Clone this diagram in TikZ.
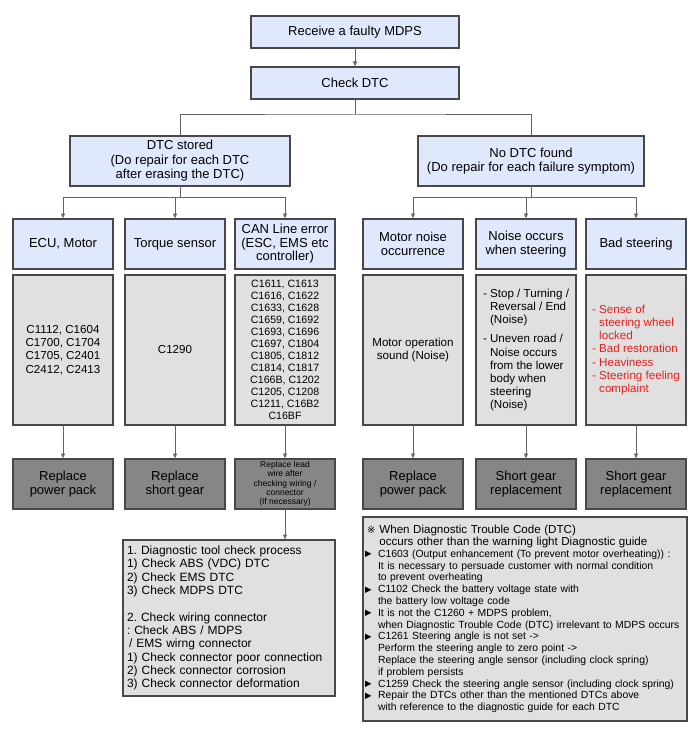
\documentclass[tikz,border=0pt]{standalone}
\usepackage{fontspec}
\setmainfont{Liberation Sans}
\newfontfamily\symfont{DejaVu Sans}
\usepackage{tikz}
\usetikzlibrary{positioning}
\usetikzlibrary{arrows,arrows.meta}

\definecolor{boxblue}{RGB}{224,232,251}
\definecolor{boxgrey}{RGB}{224,224,224}
\definecolor{boxdark}{RGB}{134,134,134}
\definecolor{linegrey}{RGB}{72,72,76}
\definecolor{symred}{RGB}{232,30,26}

\newcommand{\tri}{\raisebox{0.3pt}{\symfont\fontsize{8.5}{8.5}\selectfont ▶}\hspace{6.5pt}}
\newcommand{\refmark}{{\symfont\fontsize{10}{10}\selectfont ※}\hspace{4pt}}
\frenchspacing

\begin{document}
\begin{tikzpicture}[x=1pt, y=-1pt, >={Latex[length=5.5pt,width=4.5pt]}, node distance = 6pt,
  every node/.style = {rectangle, draw=linegrey, line width=1.2pt,
    inner sep=2pt, outer sep=0pt, align=center},
  head/.style = {fill=boxblue, font=\fontsize{13}{14.5}\selectfont},
  cat/.style  = {fill=boxblue, minimum width=100pt, minimum height=50pt,
    font=\fontsize{13}{13.5}\selectfont},
  codes/.style = {fill=boxgrey, minimum width=100pt, minimum height=150pt,
    font=\fontsize{11.6}{13.2}\selectfont},
  repl/.style = {fill=boxdark, minimum width=100pt, minimum height=50pt,
    font=\fontsize{13}{14.3}\selectfont},
  note/.style = {fill=boxgrey, align=left},
  conn/.style = {draw=linegrey!85, line width=1pt}]

  \path[use as bounding box] (0,0) rectangle (699,738);

  % top of the tree
  \node[head, minimum width=208pt, minimum height=32pt] (RM) at (355,32) {Receive a faulty MDPS};
  \node[head, minimum width=208pt, minimum height=32pt, below = 19pt of RM] (CD) {Check DTC};
  \node[head, minimum width=220pt, minimum height=50pt] (DS) at (180,161)
    {DTC stored\\(Do repair for each DTC\\after erasing the DTC)};
  \node[head, minimum width=226pt, minimum height=50pt] (ND) at (531,161)
    {No DTC found\\(Do repair for each failure symptom)};

  % failure groups
  \node[cat] (ECU) at (63,244) {ECU, Motor};
  \node[cat, right = 12pt of ECU] (TQ) {Torque sensor};
  \node[cat, right = 10pt of TQ] (CAN) {CAN Line error\\(ESC, EMS etc\\controller)};
  \node[cat, right = 28pt of CAN] (MN) {Motor noise\\occurrence};
  \node[cat, right = 13pt of MN] (NS) {Noise occurs\\when steering};
  \node[cat, right = 10pt of NS] (BS) {Bad steering};

  % codes and symptoms
  \node[codes, below = of ECU] (cECU) {C1112, C1604\\C1700, C1704\\C1705, C2401\\C2412, C2413};
  \node[codes, below = of TQ] (cTQ) {C1290};
  \node[codes, below = of CAN, font=\fontsize{10.6}{11.94}\selectfont] (cCAN)
    {C1611, C1613\\C1616, C1622\\C1633, C1628\\C1659, C1692\\C1693, C1696\\C1697, C1804\\
     C1805, C1812\\C1814, C1817\\C166B, C1202\\C1205, C1208\\C1211, C16B2\\C16BF};
  \node[codes, below = of MN] (cMN) {Motor operation\\sound (Noise)};
  \node[codes, below = of NS, align=left] (cNS)
    {- Stop / Turning /\\\hphantom{- }Reversal / End\\\hphantom{- }(Noise)\\[6pt]
     - Uneven road /\\\hphantom{- }Noise occurs\\\hphantom{- }from the lower\\
     \hphantom{- }body when\\\hphantom{- }steering\\\hphantom{- }(Noise)};
  \node[codes, below = of BS, align=left, text=symred] (cBS)
    {- Sense of\\\hphantom{- }steering wheel\\\hphantom{- }locked\\- Bad restoration\\
     - Heaviness\\- Steering feeling\\\hphantom{- }complaint};

  % repair actions
  \node[repl, below = 34pt of cECU] (rECU) {Replace\\power pack};
  \node[repl, below = 34pt of cTQ] (rTQ) {Replace\\short gear};
  \node[repl, below = 34pt of cCAN, font=\fontsize{8.5}{9.3}\selectfont] (rCAN)
    {Replace lead\\wire after\\checking wiring /\\connector\\(If necessary)};
  \node[repl, below = 34pt of cMN] (rMN) {Replace\\power pack};
  \node[repl, below = 34pt of cNS] (rNS) {Short gear\\replacement};
  \node[repl, below = 34pt of cBS] (rBS) {Short gear\\replacement};

  \node[note, text width=204pt, inner xsep=4pt, minimum height=156pt,
    font=\fontsize{12}{13.3}\selectfont,
    below = 31pt of rCAN.south east, anchor=north east] (CHK)
    {1. Diagnostic tool check process\\1) Check ABS (VDC) DTC\\2) Check EMS DTC\\3) Check MDPS DTC\\[13.3pt]
     2. Check wiring connector\\: Check ABS / MDPS\\\hspace*{2pt}/ EMS wirng connector\\
     1) Check connector poor connection\\2) Check connector corrosion\\3) Check connector deformation};

  \node[note, text width=320pt, inner xsep=2pt, minimum height=204pt,
    font=\fontsize{10.4}{11.8}\selectfont,
    below = 8pt of rMN.south west, anchor=north west] (NB)
    {\hspace*{2pt}{\fontsize{11.6}{11.8}\selectfont \refmark When Diagnostic Trouble Code (DTC)\\
      \hspace*{2pt}\hphantom{\refmark}occurs other than the warning light Diagnostic guide}\\
     \tri C1603 (Output enhancement (To prevent motor overheating)) :\\
     \hphantom{\tri}It is necessary to persuade customer with normal condition\\
     \hphantom{\tri}to prevent overheating\\
     \tri C1102 Check the battery voltage state with\\
     \hphantom{\tri}the battery low voltage code\\
     \tri It is not the C1260 + MDPS problem,\\
     \hphantom{\tri}when Diagnostic Trouble Code (DTC) irrelevant to MDPS occurs\\
     \tri C1261 Steering angle is not set ->\\
     \hphantom{\tri}Perform the steering angle to zero point ->\\
     \hphantom{\tri}Replace the steering angle sensor (including clock spring)\\
     \hphantom{\tri}if problem persists\\
     \tri C1259 Check the steering angle sensor (including clock spring)\\
     \tri Repair the DTCs other than the mentioned DTCs above\\
     \hphantom{\tri}with reference to the diagnostic guide for each DTC};

  \coordinate (BR) at (355,115);
  \coordinate (SUB) at (0,197);

  \draw[conn, ->] (RM) -- (CD);
  \draw[conn] (CD) -- (BR) (DS) |- (BR) -| (ND);
  \draw[conn] (DS) -- (DS |- SUB) (ND) -- (ND |- SUB);
  \draw[conn] (ECU |- SUB) -- (CAN |- SUB) (MN |- SUB) -- (BS |- SUB);
  \foreach \n in {ECU,TQ,CAN,MN,NS,BS} {
    \draw[conn, ->] (\n |- SUB) -- (\n);
    \draw[conn, ->] (c\n) -- (r\n);
  }
  \draw[conn, ->] (rCAN) -- (rCAN |- CHK.north);

\end{tikzpicture}
\end{document}
